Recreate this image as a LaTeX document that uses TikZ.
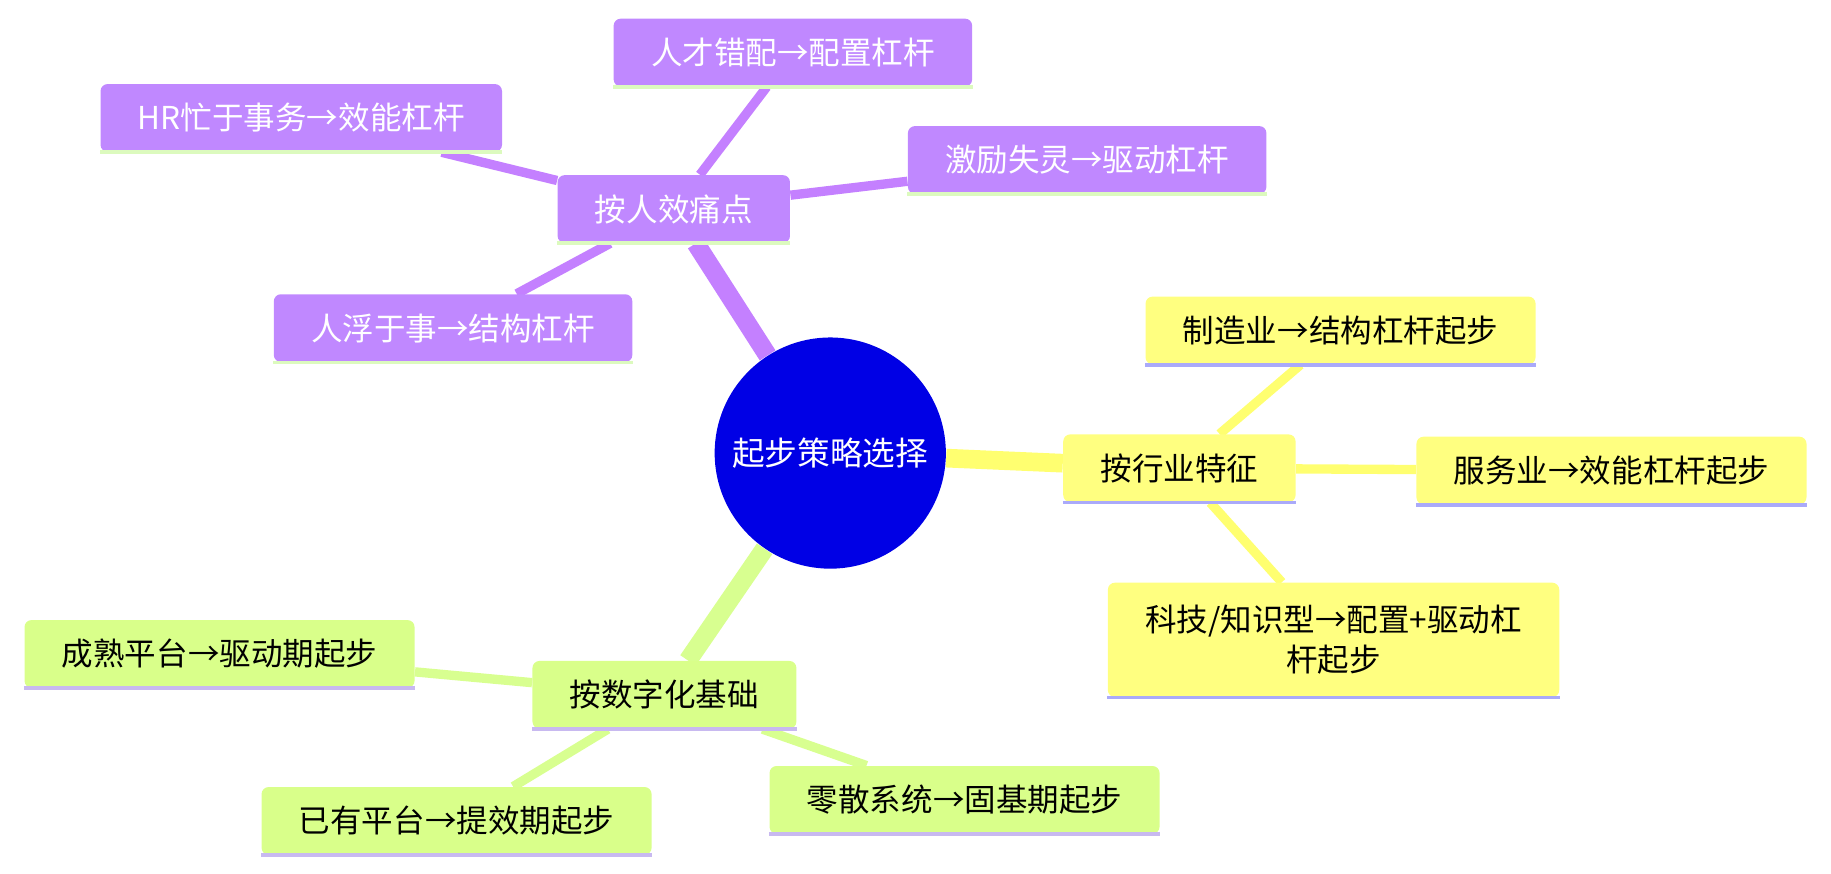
\documentclass[tikz,border=0pt]{standalone}
\usepackage{fontspec}
\setmainfont{Noto Sans CJK SC}
\usetikzlibrary{backgrounds}
\definecolor{purp}{RGB}{192,136,255}
\definecolor{yell}{RGB}{255,255,128}
\definecolor{gren}{RGB}{217,255,138}
\definecolor{lpurp}{RGB}{196,128,255}
\definecolor{lyell}{RGB}{255,255,112}
\definecolor{lgren}{RGB}{216,255,144}
\definecolor{ulgreen}{RGB}{220,250,190}
\definecolor{ulblue}{RGB}{170,170,250}
\definecolor{ullav}{RGB}{200,185,240}
\tikzset{x=0.5pt,y=-0.5pt,
  topic/.style={rounded corners=3pt,minimum height=29pt,inner xsep=16pt,
    font=\fontsize{13.5}{17}\selectfont},
  ul/.style={append after command={
    (\tikzlastnode.south west) edge[draw=#1,line width=1.6pt,-] (\tikzlastnode.south east)}},
  ptopic/.style={topic,fill=purp,text=white,ul=ulgreen},
  ytopic/.style={topic,fill=yell,ul=ulblue},
  gtopic/.style={topic,fill=gren,ul=ullav},
  pline/.style={draw=lpurp,line width=4pt},
  yline/.style={draw=lyell,line width=4pt},
  gline/.style={draw=lgren,line width=4pt}}
\begin{document}
\begin{tikzpicture}
\useasboundingbox (0,0) rectangle (1568,748);
\node[circle,fill=blue!90!black,minimum size=99pt,text=white,
  font=\fontsize{14}{17}\selectfont] (root) at (711,388) {起步策略选择};
% 人效
\node[ptopic] (p) at (577,179) {按人效痛点};
\node[ptopic] (p1) at (679,45) {人才错配→配置杠杆};
\node[ptopic] (p2) at (258,101) {HR忙于事务→效能杠杆};
\node[ptopic] (p3) at (931,137) {激励失灵→驱动杠杆};
\node[ptopic] (p4) at (388,281) {人浮于事→结构杠杆};
% 行业
\node[ytopic] (y) at (1010,401) {按行业特征};
\node[ytopic] (y1) at (1148,283) {制造业→结构杠杆起步};
\node[ytopic] (y2) at (1380,403) {服务业→效能杠杆起步};
\node[ytopic,minimum height=49pt,align=center] (y3) at (1142,548) {科技/知识型→配置+驱动杠\\杆起步};
% 数字化
\node[gtopic] (g) at (569,595) {按数字化基础};
\node[gtopic] (g1) at (188,560) {成熟平台→驱动期起步};
\node[gtopic] (g2) at (391,703) {已有平台→提效期起步};
\node[gtopic] (g3) at (826,685) {零散系统→固基期起步};
\begin{scope}[on background layer]
\draw[pline,line width=8pt] (root) -- (p);
\draw[yline,line width=8pt] (root) -- (y);
\draw[gline,line width=8pt] (root) -- (g);
\foreach \n in {p1,p2,p3,p4} \draw[pline] (p) -- (\n);
\foreach \n in {y1,y2,y3} \draw[yline] (y) -- (\n);
\foreach \n in {g1,g2,g3} \draw[gline] (g) -- (\n);
\end{scope}
\end{tikzpicture}
\end{document}
